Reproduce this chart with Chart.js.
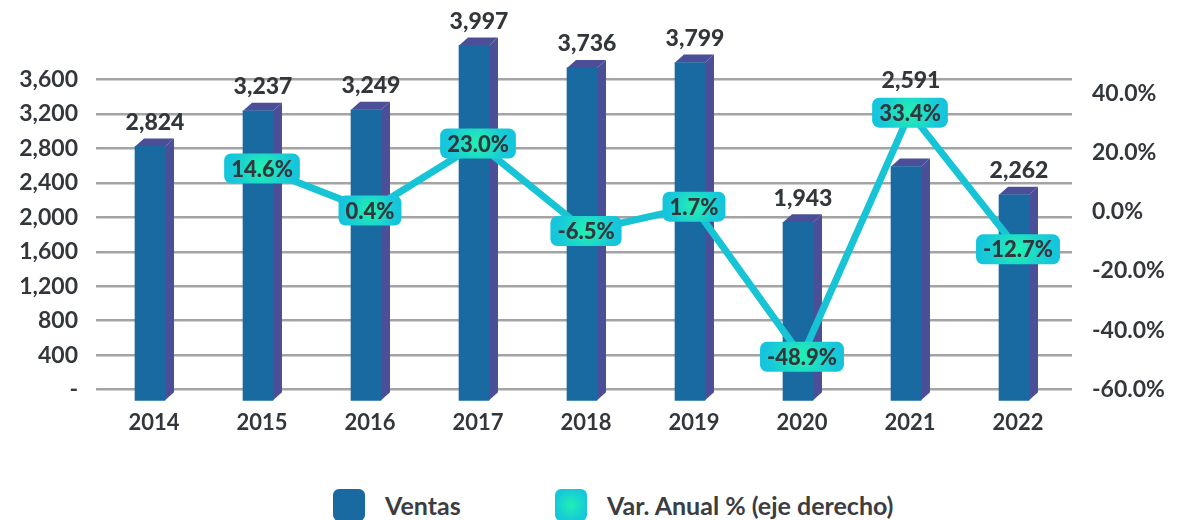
<!DOCTYPE html>
<html lang="es">
<head>
<meta charset="UTF-8" />
<title>Ventas</title>
<script src="https://cdn.jsdelivr.net/npm/chart.js"></script>
<style>
  body { margin: 0; background: #fff; font-family: Lato, "Open Sans", sans-serif; }
  #wrap { position: relative; width: 1177px; height: 520px; }
  #chartBox { position: absolute; left: 0; top: 0; width: 1177px; height: 470px; }
  .leg { position: absolute; top: 489px; display: flex; align-items: center; font: bold 25px Lato, sans-serif; color: #3a3d42; }
  .leg .sw { width: 32px; height: 32px; border-radius: 6px; margin-right: 20px; }
</style>
</head>
<body>
<div id="wrap">
  <div id="chartBox"><canvas id="myChart"></canvas></div>
  <div class="leg" id="leg0" style="left:333px"><div class="sw" style="background:#196aa0"></div><span></span></div>
  <div class="leg" id="leg1" style="left:555px"><div class="sw" style="background:radial-gradient(circle, #1ff0b4 0%, #16c9d8 70%)"></div><span></span></div>
</div>
<script>
const years = ["2014", "2015", "2016", "2017", "2018", "2019", "2020", "2021", "2022"];
const ventas = [2824, 3237, 3249, 3997, 3736, 3799, 1943, 2591, 2262];
const variacion = [null, 14.6, 0.4, 23.0, -6.5, 1.7, -48.9, 33.4, -12.7];
const leftTicks = [0, 400, 800, 1200, 1600, 2000, 2400, 2800, 3200, 3600];
const rightTicks = [-60, -40, -20, 0, 20, 40];

const FRONT = "#196aa0";
const SIDE = "#4a4f97";
const LINE = "#17c4d6";
const TEXT = "#33373c";

// side and top faces for the bars, drawn before the front faces
const bars3d = {
  id: "bars3d",
  beforeDatasetDraw(chart, args) {
    if (args.index !== 0) return;
    const ctx = chart.ctx;
    ctx.save();
    ctx.translate(-4, 0);
    const dx = 9, dy = 8;
    args.meta.data.forEach(bar => {
      const l = bar.x - bar.width / 2, r = bar.x + bar.width / 2;
      const t = bar.y, b = bar.base;
      ctx.fillStyle = SIDE;
      ctx.beginPath();
      ctx.moveTo(r, t); ctx.lineTo(r + dx, t - dy); ctx.lineTo(r + dx, b - dy); ctx.lineTo(r, b);
      ctx.closePath(); ctx.fill();
      ctx.beginPath();
      ctx.moveTo(l, t); ctx.lineTo(l + dx, t - dy); ctx.lineTo(r + dx, t - dy); ctx.lineTo(r, t);
      ctx.closePath(); ctx.fill();
    });
  },
  afterDatasetDraw(chart, args) {
    if (args.index === 0) chart.ctx.restore();
  }
};

function roundRect(ctx, x, y, w, h, r) {
  ctx.beginPath();
  ctx.moveTo(x + r, y);
  ctx.arcTo(x + w, y, x + w, y + h, r);
  ctx.arcTo(x + w, y + h, x, y + h, r);
  ctx.arcTo(x, y + h, x, y, r);
  ctx.arcTo(x, y, x + w, y, r);
  ctx.closePath();
}

const valueLabels = {
  id: "valueLabels",
  afterDatasetsDraw(chart) {
    const ctx = chart.ctx;
    const barMeta = chart.getDatasetMeta(0);
    const lineMeta = chart.getDatasetMeta(1);
    ctx.save();
    ctx.textAlign = "center";
    ctx.textBaseline = "middle";

    // boxed labels on the line
    ctx.font = "900 22px Lato";
    lineMeta.data.forEach((pt, i) => {
      const v = variacion[i];
      if (v === null) return;
      const txt = v.toFixed(1) + "%";
      const w = ctx.measureText(txt).width + 14, h = 30;
      const g = ctx.createRadialGradient(pt.x, pt.y, 2, pt.x, pt.y, w / 2);
      g.addColorStop(0, "#22eeb4");
      g.addColorStop(0.75, "#17c9d9");
      g.addColorStop(1, "#14c4dc");
      ctx.fillStyle = g;
      roundRect(ctx, pt.x - w / 2, pt.y - h / 2, w, h, 7);
      ctx.fill();
      ctx.fillStyle = TEXT;
      ctx.fillText(txt, pt.x, pt.y + 1);
    });

    // sales values above the bars
    ctx.font = "900 23px Lato";
    barMeta.data.forEach((bar, i) => {
      let y = bar.y - 24;
      const pt = lineMeta.data[i];
      if (variacion[i] !== null && pt.y < bar.y && bar.y - pt.y < 80) y = pt.y - 32;
      ctx.fillStyle = TEXT;
      ctx.fillText(ventas[i].toLocaleString("en-US"), bar.x + 1, y);
    });
    ctx.restore();
  }
};

const xFont = { family: "Lato", size: 22, weight: "bold" };
const yFont = { family: "Lato", size: 23, weight: "bold" };

const chart = new Chart(document.getElementById("myChart"), {
  data: {
    labels: years,
    datasets: [
      {
        type: "bar",
        label: "Ventas",
        data: ventas,
        backgroundColor: FRONT,
        barThickness: 30,
        base: -125,
        clip: false,
        yAxisID: "y",
        order: 2
      },
      {
        type: "line",
        label: "Var. Anual % (eje derecho)",
        data: variacion,
        borderColor: LINE,
        borderWidth: 7,
        pointRadius: 0,
        tension: 0,
        yAxisID: "y1",
        order: 1
      }
    ]
  },
  plugins: [bars3d, valueLabels],
  options: {
    responsive: true,
    maintainAspectRatio: false,
    animation: false,
    layout: { padding: { top: 2, bottom: 14 } },
    plugins: { legend: { display: false }, tooltip: { enabled: false } },
    scales: {
      x: {
        grid: { display: false, drawTicks: false },
        border: { display: false },
        ticks: { color: TEXT, padding: 20, font: xFont }
      },
      y: {
        position: "left",
        min: 0,
        max: 4132,
        afterBuildTicks: s => { s.ticks = leftTicks.map(v => ({ value: v })); },
        afterFit: s => { s.width = 100; },
        grid: { color: "#a4a4a4", lineWidth: 2.5, tickLength: 4 },
        border: { display: false },
        ticks: {
          color: TEXT, padding: 18, font: yFont,
          callback: v => v === 0 ? "-" : v.toLocaleString("en-US")
        }
      },
      y1: {
        position: "right",
        min: -60,
        max: 60,
        afterBuildTicks: s => { s.ticks = rightTicks.map(v => ({ value: v })); },
        afterFit: s => { s.width = 105; },
        grid: { display: false, drawTicks: false },
        border: { display: false },
        ticks: {
          color: TEXT, padding: 20, font: yFont,
          callback: v => v.toFixed(1) + "%"
        }
      }
    }
  }
});

// legend text from the dataset labels
chart.data.datasets.forEach((ds, i) => {
  document.querySelector("#leg" + i + " span").textContent = ds.label;
});
</script>
</body>
</html>
